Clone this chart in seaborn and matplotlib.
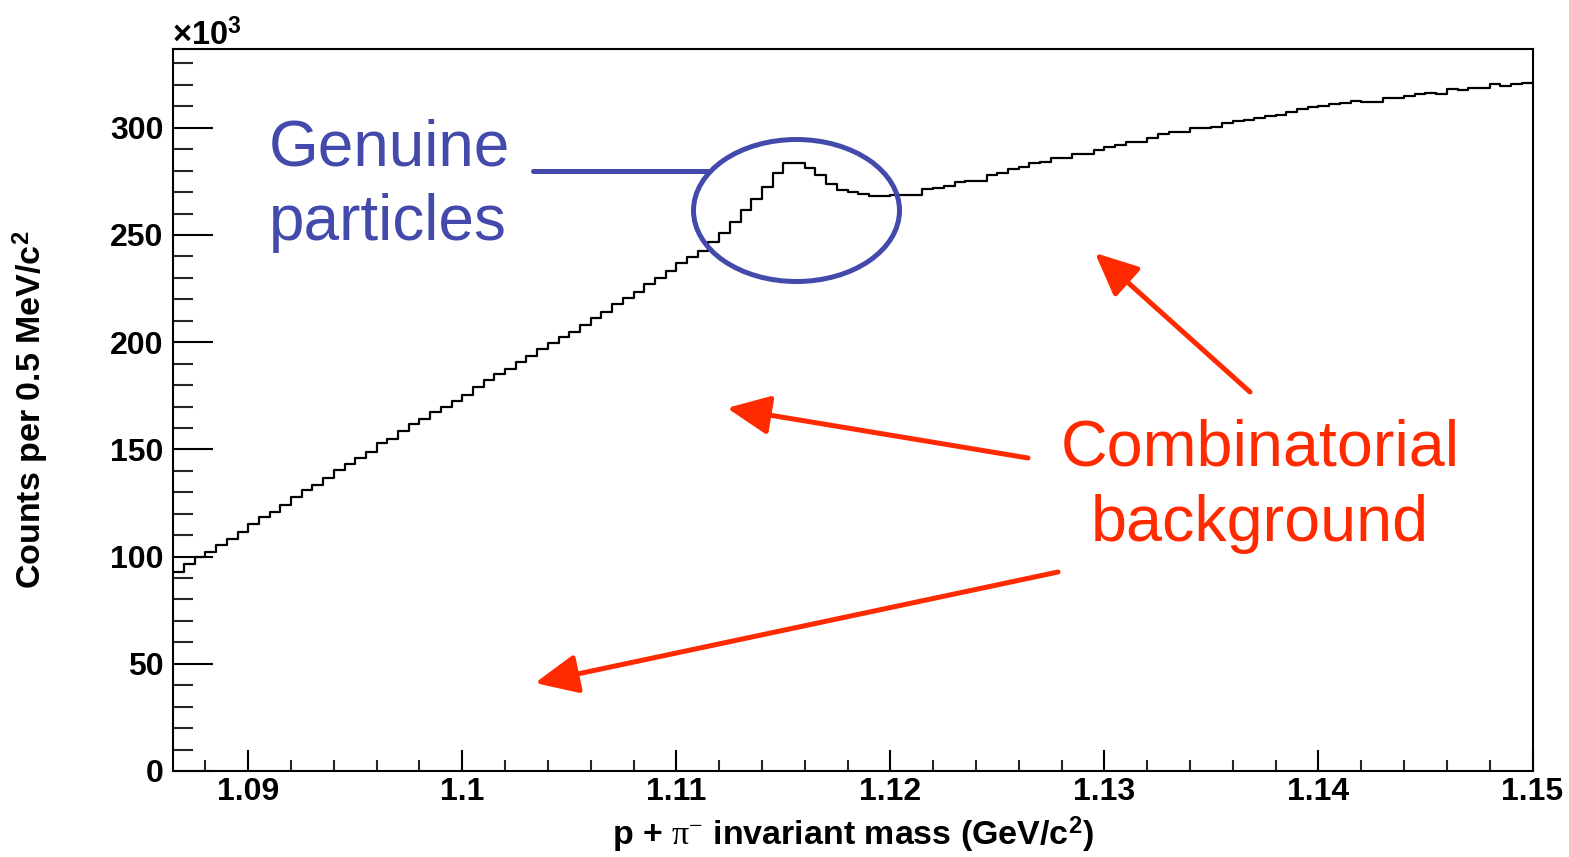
import numpy as np
import pandas as pd
import matplotlib
matplotlib.use("Agg")
import matplotlib.pyplot as plt
import seaborn as sns
from matplotlib.patches import Ellipse
from matplotlib.lines import Line2D
from matplotlib.ticker import MultipleLocator

# ---------------- data ----------------
mass_low = 1.0865      # GeV/c^2, lower edge of first bin
mass_high = 1.15       # GeV/c^2, upper edge of last bin
bin_width = 0.0005     # 0.5 MeV/c^2

counts_thousands = [
    93.0, 96.5, 99.7, 102.3, 105.4, 108.2, 111.3, 115.2, 118.3, 120.9,
    124.2, 127.7, 131.1, 133.4, 136.8, 140.4, 143.2, 145.8, 148.6, 152.8,
    154.7, 158.6, 162.0, 164.0, 167.3, 169.9, 172.6, 175.4, 179.2, 182.4,
    185.2, 187.5, 190.9, 193.6, 196.7, 199.5, 202.3, 204.9, 208.0, 211.1,
    214.2, 217.8, 220.5, 223.6, 227.0, 229.8, 233.4, 236.8, 239.9, 242.7,
    246.9, 250.8, 256.0, 261.5, 266.6, 272.2, 279.0, 283.7, 283.7, 281.1,
    278.0, 273.6, 271.0, 270.1, 269.1, 268.2, 268.2, 268.5, 268.5, 268.8,
    271.5, 272.1, 273.0, 274.6, 275.2, 275.2, 278.0, 279.1, 280.8, 281.7,
    283.4, 284.2, 286.1, 286.1, 287.6, 287.6, 289.6, 291.2, 292.0, 293.5,
    293.5, 295.4, 297.0, 298.2, 298.2, 300.0, 299.8, 300.5, 302.0, 303.2,
    303.6, 304.4, 305.5, 306.0, 307.5, 308.8, 309.6, 310.3, 311.2, 311.7,
    312.5, 311.9, 312.2, 314.0, 314.0, 315.0, 315.6, 316.4, 315.6, 317.9,
    317.6, 318.4, 318.4, 320.4, 319.5, 320.3, 320.8,
]

x_tick_values = [1.09, 1.10, 1.11, 1.12, 1.13, 1.14, 1.15]
x_tick_labels = ["1.09", "1.1", "1.11", "1.12", "1.13", "1.14", "1.15"]
y_tick_values = [0, 50, 100, 150, 200, 250, 300]
y_tick_labels = ["0", "50", "100", "150", "200", "250", "300"]
y_max = 336.6

x_title = r"p + $\mathrm{\pi}^{\mathrm{-}}$ invariant mass (GeV/c$^{\mathbf{2}}$)"
y_title = r"Counts per 0.5 MeV/c$^{\mathbf{2}}$"
genuine_text = ["Genuine", "particles"]
background_text = ["Combinatorial", "background"]

# ---------------- style ----------------
sns.set_theme(style="ticks")
plt.rcParams["font.family"] = ["Liberation Sans", "DejaVu Sans"]
plt.rcParams["mathtext.fontset"] = "custom"
plt.rcParams["mathtext.rm"] = "Liberation Serif"
plt.rcParams["mathtext.it"] = "Liberation Serif:italic"
plt.rcParams["mathtext.bf"] = "Liberation Sans:bold"

BLUE = "#434AAB"
RED = "#FF2A00"
W, H = 1569, 857

def fx(px):
    return px / W

def fy(py):
    return 1 - py / H

n_bins = len(counts_thousands)
edges = mass_low + bin_width * np.arange(n_bins + 1)
centers = edges[:-1] + bin_width / 2
df = pd.DataFrame({"mass": centers, "counts": counts_thousands})

fig = plt.figure(figsize=(W / 100, H / 100), dpi=100)
ax_l, ax_r, ax_t, ax_b = 173.3, 1532.5, 49.3, 771.0
ax = fig.add_axes([fx(ax_l), fy(ax_b), (ax_r - ax_l) / W, (ax_b - ax_t) / H])

sns.histplot(data=df, x="mass", weights="counts", bins=n_bins,
             binrange=(mass_low, mass_low + n_bins * bin_width), element="step",
             fill=False, color="black", linewidth=1.6, ax=ax)

ax.set_xlim(mass_low, mass_high)
ax.set_ylim(0, y_max)

ax.set_xticks(x_tick_values)
ax.set_xticklabels(x_tick_labels)
ax.set_yticks(y_tick_values)
ax.set_yticklabels(y_tick_labels)
ax.xaxis.set_minor_locator(MultipleLocator(0.002))
ax.yaxis.set_minor_locator(MultipleLocator(10))

ax.tick_params(axis="y", which="major", direction="in", length=28.8, width=1.5,
               left=True, right=False, pad=7, labelsize=23, colors="black")
ax.tick_params(axis="y", which="minor", direction="in", length=14.4, width=1.5,
               left=True, right=False)
ax.tick_params(axis="x", which="major", direction="in", length=15, width=1.5,
               bottom=True, top=False, pad=4, labelsize=23, colors="black")
ax.tick_params(axis="x", which="minor", direction="in", length=8, width=1.5,
               bottom=True, top=False)
for lab in ax.get_xticklabels() + ax.get_yticklabels():
    lab.set_fontweight("bold")

for sp in ax.spines.values():
    sp.set_visible(True)
    sp.set_color("black")
    sp.set_linewidth(1.5)

ax.set_xlabel(x_title, fontsize=24.5, fontweight="bold", color="black")
ax.set_ylabel(y_title, fontsize=24.5, fontweight="bold", color="black")
ax.xaxis.set_label_coords(0.5, (ax_b - 815) / (ax_b - ax_t))
ax.yaxis.set_label_coords((51 - ax_l) / (ax_r - ax_l), 0.5)

# x10^3 multiplier
fig.text(fx(172), fy(45), r"×10$^{\mathbf{3}}$", fontsize=23.5, fontweight="bold",
         ha="left", va="baseline", color="black")

# ---------------- annotations ----------------
fig.text(fx(269), fy(165), genuine_text[0], fontsize=46, color=BLUE, ha="left", va="baseline")
fig.text(fx(269), fy(240), genuine_text[1], fontsize=46, color=BLUE, ha="left", va="baseline")

fig.add_artist(Line2D([fx(533), fx(708)], [fy(171), fy(171)], color=BLUE, lw=3.6,
                      transform=fig.transFigure))
ell_w, ell_h = 206, 142
fig.add_artist(Ellipse((fx(796.5), fy(210.5)), ell_w / W, ell_h / H, fill=False,
                       edgecolor=BLUE, lw=3.6, transform=fig.transFigure))

fig.text(fx(1260), fy(465), background_text[0], fontsize=46.5, color=RED, ha="center", va="baseline")
fig.text(fx(1260), fy(541), background_text[1], fontsize=46.5, color=RED, ha="center", va="baseline")

arrows = [((1250, 392), (1095, 253)),
          ((1028, 458), (727, 408)),
          ((1058, 572), (535, 683))]
for (tx, ty), (hx, hy) in arrows:
    ax.annotate("", xy=(hx, H - hy), xytext=(tx, H - ty), xycoords="figure pixels",
                textcoords="figure pixels",
                arrowprops=dict(arrowstyle="-|>,head_length=1.05,head_width=0.48",
                                mutation_scale=25, color=RED, lw=3.6,
                                shrinkA=0, shrinkB=0))

fig.savefig("out.png", dpi=100, facecolor="white")
